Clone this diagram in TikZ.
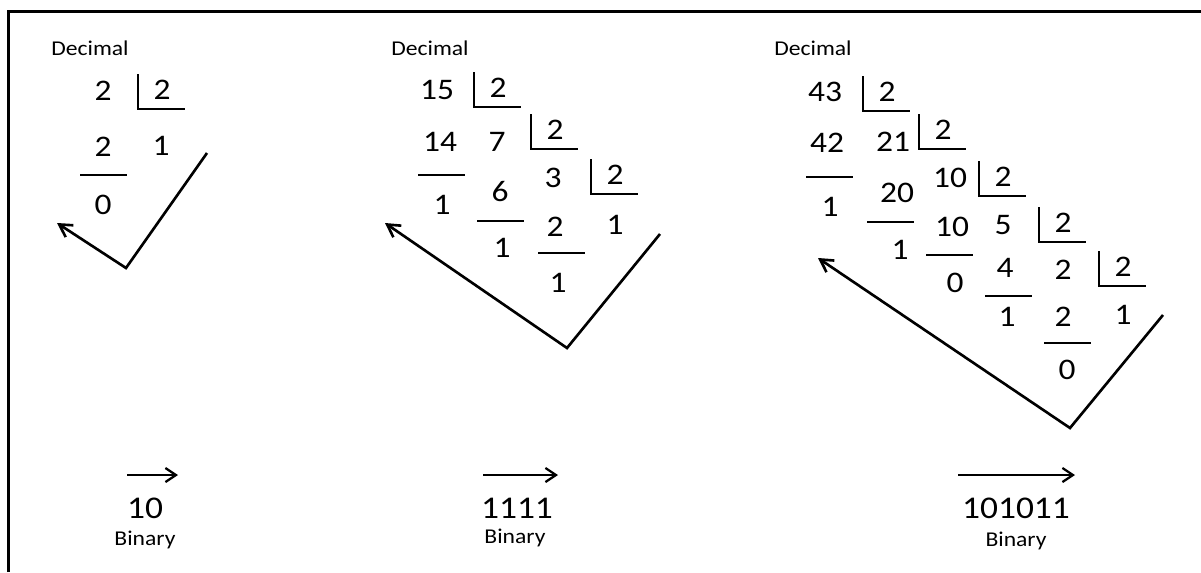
\documentclass[tikz,border=0pt]{standalone}
\usepackage{fontspec}
\setmainfont{Carlito}[FakeStretch=1.12]
\usetikzlibrary{arrows.meta,calc}

\begin{document}
\begin{tikzpicture}[
    x=0.02cm, y=-0.02cm,
    digit/.style={font=\fontsize{17}{20}\selectfont, inner sep=0pt},
    binnum/.style={font=\fontsize{18}{21}\selectfont, inner sep=0pt},
    word/.style={font=\fontsize{12}{15}\selectfont, inner sep=0pt},
    bar/.style={line width=0.6pt},
    check/.style={-{Straight Barb[length=7pt,width=8pt]}, line width=1.5pt, line join=miter},
    flow/.style={-{Straight Barb[length=6pt,width=8pt]}, line width=1.3pt},
    frame/.style={line width=1.8pt}
]
\useasboundingbox (0,0) rectangle (1201,572);
% frame
\draw[frame] (8.5,572) |- (1201,11.5);

% 2 -> 10
\node[word] (dec1) at (90,48) {Decimal};
\node[digit] (n1) at (103,91) {2};
\node[digit] (d1) at (162,90) {2};
\node[digit] (s1) at (103,147) {2};
\node[digit] (q1) at (161,146) {1};
\node[digit] (r1) at (103,205) {0};
\coordinate (c1top) at (207,153);
\coordinate (c1bot) at (126,268);
\coordinate (c1tip) at (57,223);
\draw[check] (c1top) -- (c1bot) -- (c1tip);
\coordinate (f1a) at (127,475);
\coordinate (f1b) at (178,475);
\draw[flow] (f1a) -- (f1b);
\node[binnum] (bin1) at (145,508) {10};
\node[word] (lbl1) at (145,540) {Binary};

% 15 -> 1111
\node[word] (dec2) at (430,48) {Decimal};
\node[digit] (n2) at (437,90) {15};
\node[digit] (d2a) at (498,88) {2};
\node[digit] (s2a) at (440,142) {14};
\node[digit] (q2a) at (497,142) {7};
\node[digit] (d2b) at (555,130) {2};
\node[digit] (r2a) at (442,205) {1};
\node[digit] (s2b) at (500,192) {6};
\node[digit] (q2b) at (553,178) {3};
\node[digit] (d2c) at (615,175) {2};
\node[digit] (r2b) at (502,248) {1};
\node[digit] (s2c) at (555,227) {2};
\node[digit] (q2c) at (615,225) {1};
\node[digit] (r2c) at (558,283) {1};
\coordinate (c2top) at (660,234);
\coordinate (c2bot) at (567,348);
\coordinate (c2tip) at (385,223);
\draw[check] (c2top) -- (c2bot) -- (c2tip);
\coordinate (f2a) at (483,475);
\coordinate (f2b) at (558,475);
\draw[flow] (f2a) -- (f2b);
\node[binnum] (bin2) at (517,508) {1111};
\node[word] (lbl2) at (515,538) {Binary};

% 43 -> 101011
\node[word] (dec3) at (813,48) {Decimal};
\node[digit] (n3) at (825,92) {43};
\node[digit] (d3a) at (887,92) {2};
\node[digit] (s3a) at (827,143) {42};
\node[digit] (q3a) at (893,142) {21};
\node[digit] (d3b) at (943,130) {2};
\node[digit] (r3a) at (830,207) {1};
\node[digit] (s3b) at (897,193) {20};
\node[digit] (q3b) at (950,178) {10};
\node[digit] (d3c) at (1003,177) {2};
\node[digit] (r3b) at (900,250) {1};
\node[digit] (s3c) at (952,227) {10};
\node[digit] (q3c) at (1003,225) {5};
\node[digit] (d3d) at (1063,223) {2};
\node[digit] (r3c) at (955,283) {0};
\node[digit] (s3d) at (1005,268) {4};
\node[digit] (q3d) at (1063,270) {2};
\node[digit] (d3e) at (1123,267) {2};
\node[digit] (r3d) at (1007,317) {1};
\node[digit] (s3e) at (1063,317) {2};
\node[digit] (q3e) at (1123,315) {1};
\node[digit] (r3e) at (1067,370) {0};
\coordinate (c3top) at (1163,315);
\coordinate (c3bot) at (1070,428);
\coordinate (c3tip) at (818,258);
\draw[check] (c3top) -- (c3bot) -- (c3tip);
\coordinate (f3a) at (958,475);
\coordinate (f3b) at (1075,475);
\draw[flow] (f3a) -- (f3b);
\node[binnum] (bin3) at (1016,508) {101011};
\node[word] (lbl3) at (1016,541) {Binary};

% division brackets
\foreach \d in {d1,d2a,d2b,d2c,d3a,d3b,d3c,d3d,d3e}
    \draw[bar] ($(\d)+(-24,-16)$) |- ($(\d)+(23,19)$);

% subtraction bars
\foreach \x/\y in {80/175, 418/175, 477/221, 538/253,
                   806/177, 867/222, 926/255, 985/296, 1044/343}
    \draw[bar] (\x,\y) -- ++(47,0);
\end{tikzpicture}
\end{document}
